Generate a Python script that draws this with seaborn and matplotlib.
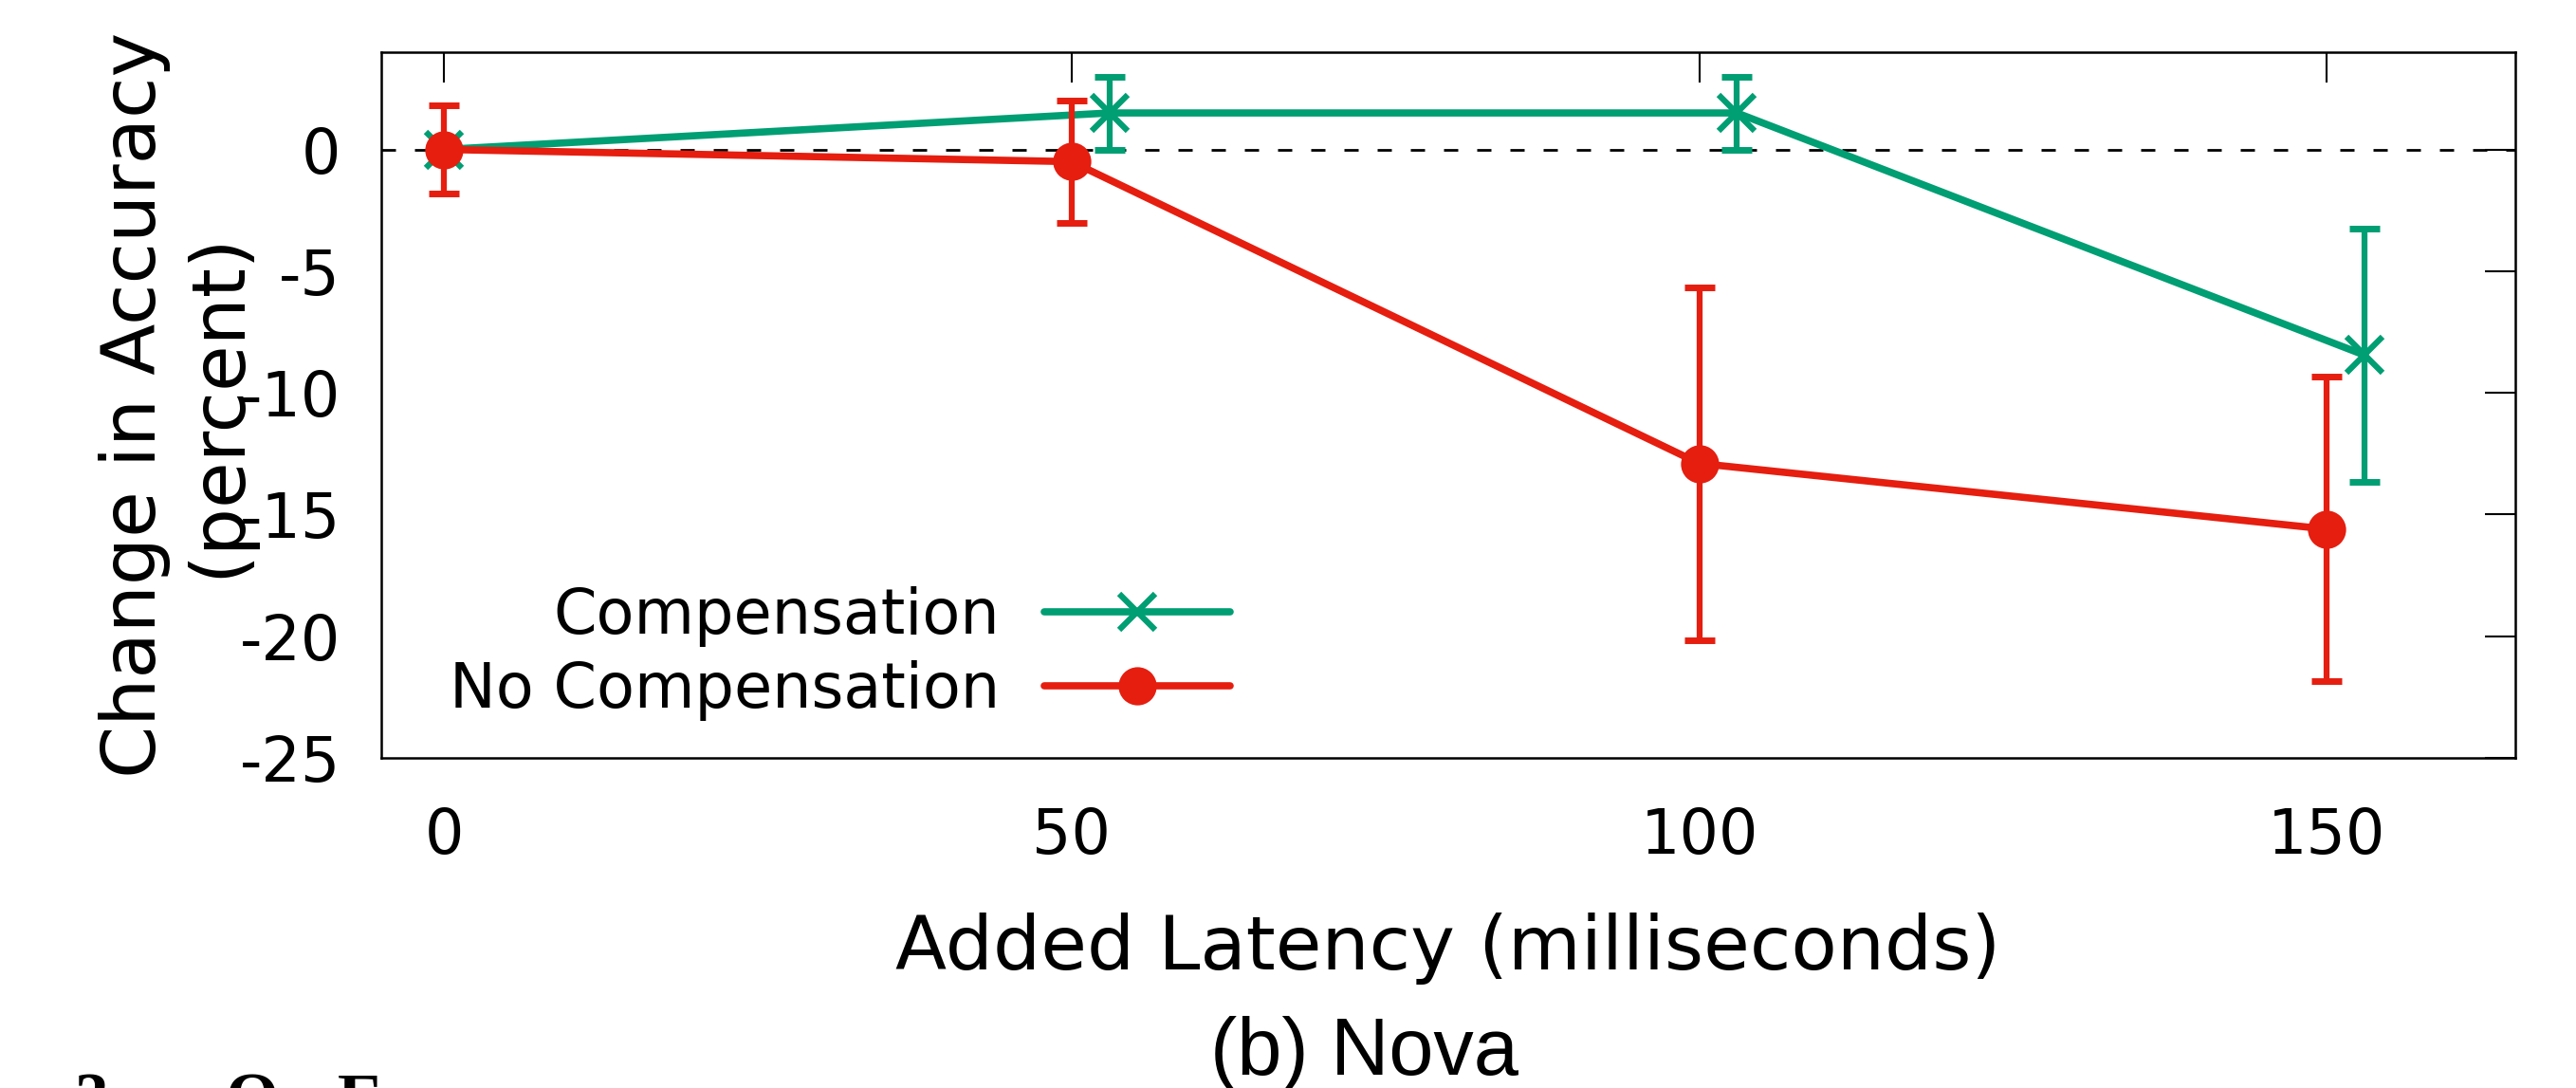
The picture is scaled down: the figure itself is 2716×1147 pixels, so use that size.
import numpy as np
import pandas as pd
import matplotlib
matplotlib.use("Agg")
import matplotlib.pyplot as plt
from matplotlib.lines import Line2D
import seaborn as sns

# ---- data ----
latency_comp = [0, 53, 103, 153]
acc_comp = [0.0, 1.5, 1.5, -8.45]
err_comp = [0.0, 1.5, 1.5, 5.2]

latency_nocomp = [0, 50, 100, 150]
acc_nocomp = [0.0, -0.5, -12.9, -15.6]
err_nocomp = [1.8, 2.5, 7.25, 6.25]

xticks = [0, 50, 100, 150]
yticks = [0, -5, -10, -15, -20, -25]
series_labels = ["Compensation", "No Compensation"]

GREEN = "#009e73"
RED = "#e51e10"

sns.set_theme(style="white", rc={
    "axes.edgecolor": "black",
    "text.color": "black",
    "axes.labelcolor": "black",
    "xtick.color": "black",
    "ytick.color": "black",
})
plt.rcParams["font.family"] = ["DejaVu Sans"]
plt.rcParams["axes.unicode_minus"] = False

fig = plt.figure(figsize=(27.16, 11.47), dpi=100)
ax = fig.add_axes([0.1480, 0.3034, 0.8284, 0.6487])

# zero reference line
ax.axhline(0, color="black", lw=2, dashes=(5.4, 7.2), zorder=1)

LW = 5.5
ELW = 4.5

# Compensation series
ax.errorbar(latency_comp, acc_comp, yerr=err_comp, fmt="none", ecolor=GREEN,
            elinewidth=ELW, capsize=11.5, capthick=5, zorder=2)
sns.lineplot(x=latency_comp, y=acc_comp, ax=ax, color=GREEN, linewidth=LW,
             marker="x", markersize=27, markeredgewidth=4.5,
             markeredgecolor=GREEN, zorder=3)

# No Compensation series
ax.errorbar(latency_nocomp, acc_nocomp, yerr=err_nocomp, fmt="none", ecolor=RED,
            elinewidth=ELW, capsize=11.5, capthick=5, zorder=4)
sns.lineplot(x=latency_nocomp, y=acc_nocomp, ax=ax, color=RED, linewidth=LW,
             marker="o", markersize=29, markeredgewidth=0,
             markeredgecolor=RED, zorder=5)

ax.set_xlim(-5, 165)
ax.set_ylim(-25, 4)
ax.set_xticks(xticks)
ax.set_yticks(yticks)
ax.tick_params(axis="both", direction="in", length=23, width=1.5,
               top=True, right=True, labelsize=47)
ax.tick_params(axis="x", pad=37)
ax.tick_params(axis="y", pad=31)
for sp in ax.spines.values():
    sp.set_color("black")
    sp.set_linewidth(1.8)

ax.set_xlabel("Added Latency (milliseconds)", fontsize=57)
ax.xaxis.set_label_coords(0.5, -0.219)
ax.set_ylabel("Change in Accuracy\n(percent)", fontsize=57, linespacing=1.2)
ax.yaxis.set_label_coords(-0.0596, 0.5)

# legend: text on the left, right-aligned, sample on the right
h_comp = Line2D([], [], color=GREEN, lw=LW, marker="x", ms=27, mew=4.5)
h_nocomp = Line2D([], [], color=RED, lw=LW, marker="o", ms=29, mew=0)
common = dict(loc="center right", bbox_transform=ax.transAxes, frameon=False,
              markerfirst=False, handlelength=3.0, handletextpad=0.72,
              borderpad=0, borderaxespad=0, fontsize=47, numpoints=1)
leg1 = ax.legend(handles=[h_comp], labels=[series_labels[0]],
                 bbox_to_anchor=(0.3978, 0.2003), **common)
ax.add_artist(leg1)
leg2 = ax.legend(handles=[h_nocomp], labels=[series_labels[1]],
                 bbox_to_anchor=(0.3978, 0.0954), **common)

# caption and cut-off page text
fig.text(1439 / 2716, 0.0122, "(b) Nova", family="Liberation Sans",
         fontsize=61, ha="center", va="baseline")
for ch, px in [("3", 78), ("O", 238), ("E", 356)]:
    fig.text(px / 2716, -0.0296, ch, family="Liberation Serif",
             fontweight="bold", fontsize=52, ha="left", va="baseline")

fig.savefig("out.png", dpi=100)
